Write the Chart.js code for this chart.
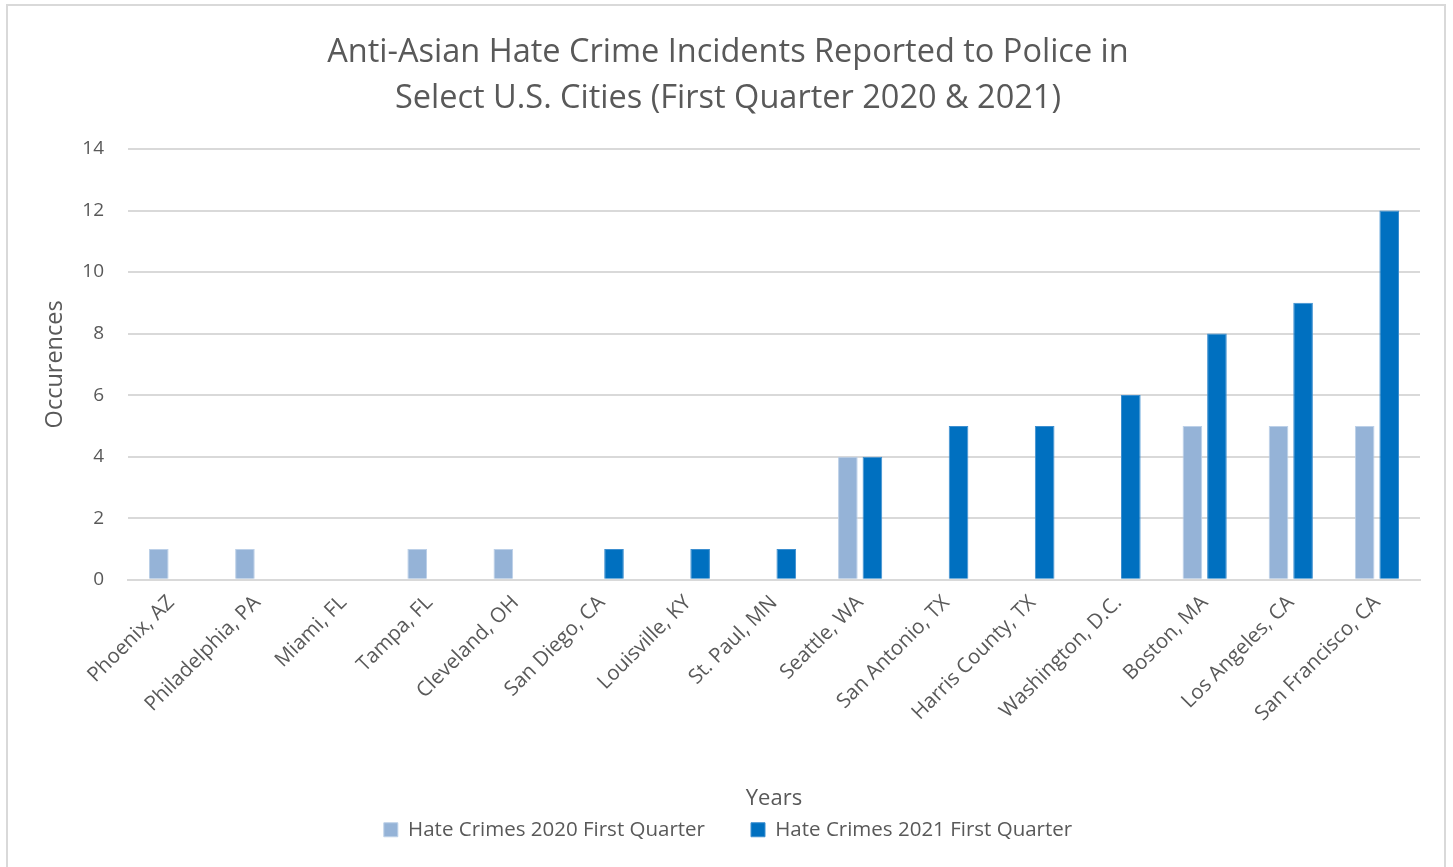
<!DOCTYPE html>
<html>
<head>
<meta charset="utf-8">
<script src="https://cdn.jsdelivr.net/npm/chart.js@4"></script>
<style>
  body { margin: 0; background: #fff; }
  #wrap { position: absolute; left: 6px; top: 4px; width: 1440px; height: 880px; border: 2px solid #d9d9d9; box-sizing: border-box; }
</style>
</head>
<body>
<div id="wrap"><canvas id="crimeChart"></canvas></div>
<script>
// cities along the x axis
const cities = ['Phoenix, AZ', 'Philadelphia, PA', 'Miami, FL', 'Tampa, FL', 'Cleveland, OH', 'San Diego, CA',
  'Louisville, KY', 'St. Paul, MN', 'Seattle, WA', 'San Antonio, TX', 'Harris County, TX', 'Washington, D.C.',
  'Boston, MA', 'Los Angeles, CA', 'San Francisco, CA'];

// occurrences per city
const crimes2020 = [1, 1, 0, 1, 1, 0, 0, 0, 4, 0, 0, 0, 5, 5, 5];
const crimes2021 = [0, 0, 0, 0, 0, 1, 1, 1, 4, 5, 5, 6, 8, 9, 12];

const fontFamily = "'Open Sans', 'Noto Sans', sans-serif";
const textColor = '#595959';

const ctx = document.getElementById('crimeChart').getContext('2d');
new Chart(ctx, {
  type: 'bar',
  data: {
    labels: cities,
    datasets: [{
      label: 'Hate Crimes 2020 First Quarter',
      data: crimes2020,
      backgroundColor: '#95b3d7',
      borderColor: '#bcd0e8',
      borderWidth: 1,
      barPercentage: 0.8,
      categoryPercentage: 0.57,
    }, {
      label: 'Hate Crimes 2021 First Quarter',
      data: crimes2021,
      backgroundColor: '#0070c0',
      borderColor: '#3d8fd0',
      borderWidth: 1,
      barPercentage: 0.8,
      categoryPercentage: 0.57,
    }],
  },
  options: {
    responsive: true,
    maintainAspectRatio: false,
    animation: false,
    layout: { padding: { left: 28, right: 24, top: 8, bottom: 32 } },
    plugins: {
      title: {
        display: true,
        text: ['Anti-Asian Hate Crime Incidents Reported to Police in', 'Select U.S. Cities (First Quarter 2020 & 2021)'],
        color: textColor,
        font: { family: fontFamily, size: 32.5, weight: 'normal', lineHeight: 1.4 },
        padding: { top: 16, bottom: 28 },
      },
      legend: {
        position: 'bottom',
        labels: {
          color: textColor,
          font: { family: fontFamily, size: 20.5 },
          boxWidth: 14,
          boxHeight: 14,
          padding: 46,
        },
      },
      tooltip: { enabled: false },
    },
    scales: {
      x: {
        grid: { display: false },
        border: { color: '#d9d9d9', width: 2 },
        ticks: {
          color: textColor,
          font: { family: fontFamily, size: 20.5 },
          maxRotation: 45,
          minRotation: 45,
        },
        title: {
          display: true,
          text: 'Years',
          color: textColor,
          font: { family: fontFamily, size: 22 },
          padding: { top: 56, bottom: -38 },
        },
      },
      y: {
        min: 0,
        max: 14,
        afterFit(scale) { scale.width = 92; },
        ticks: {
          stepSize: 2,
          color: textColor,
          font: { family: fontFamily, size: 19 },
          padding: 24,
        },
        grid: { color: '#d9d9d9', lineWidth: 2, drawTicks: false },
        border: { display: false },
        title: {
          display: true,
          text: 'Occurences',
          color: textColor,
          font: { family: fontFamily, size: 23.5 },
          padding: { top: 5, bottom: 0 },
        },
      },
    },
  },
});
</script>
</body>
</html>
